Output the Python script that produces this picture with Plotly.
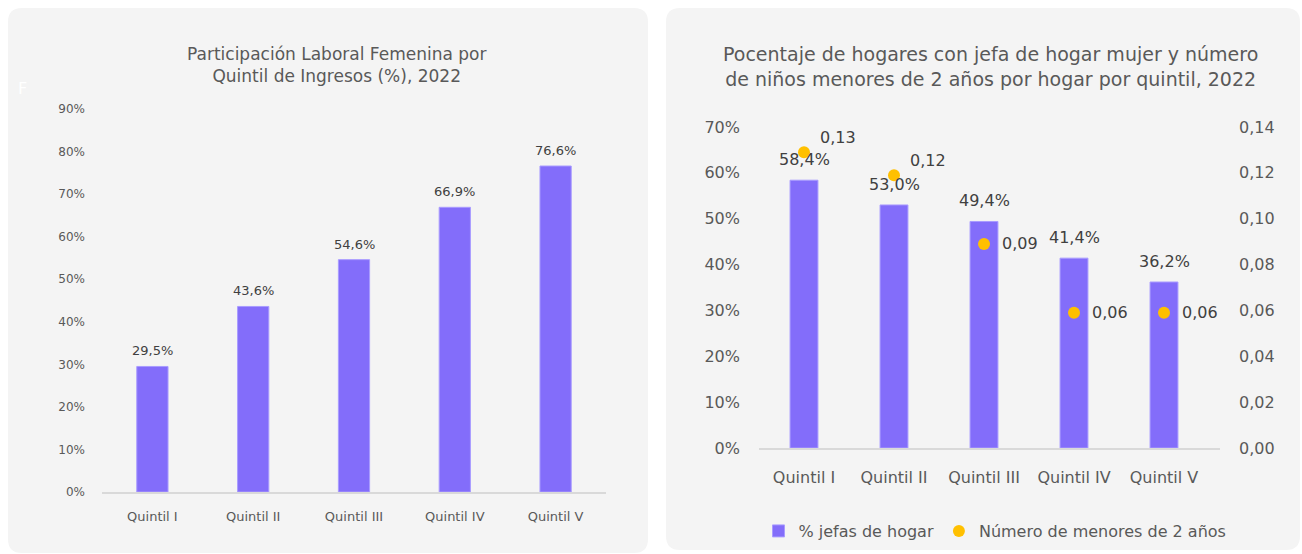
import plotly.graph_objects as go

# ---------------- data ----------------
quintiles = ["Quintil I", "Quintil II", "Quintil III", "Quintil IV", "Quintil V"]
participacion = [29.5, 43.6, 54.6, 66.9, 76.6]          # % left chart
jefas_hogar = [58.4, 53.0, 49.4, 41.4, 36.2]            # % right chart bars
menores_2 = [0.129, 0.119, 0.089, 0.059, 0.059]         # right chart dots
left_ticks = [0, 10, 20, 30, 40, 50, 60, 70, 80, 90]
right_ticks = [0, 10, 20, 30, 40, 50, 60, 70]
right2_ticks = [0, 0.02, 0.04, 0.06, 0.08, 0.10, 0.12, 0.14]

W, H = 1302, 554
FONT = "DejaVu Sans, sans-serif"
PURPLE = "#836DFA"
ORANGE = "#FFC000"
TXT = "#595959"
TXT2 = "#404040"


def px(x):
    return x / W


def py(y):
    return 1 - y / H


def rrect(x0, y0, x1, y1, r):
    pts = [
        ("M", [(x0 + r, y0)]),
        ("L", [(x1 - r, y0)]),
        ("Q", [(x1, y0), (x1, y0 + r)]),
        ("L", [(x1, y1 - r)]),
        ("Q", [(x1, y1), (x1 - r, y1)]),
        ("L", [(x0 + r, y1)]),
        ("Q", [(x0, y1), (x0, y1 - r)]),
        ("L", [(x0, y0 + r)]),
        ("Q", [(x0, y0), (x0 + r, y0)]),
    ]
    s = ""
    for cmd, pp in pts:
        s += cmd + " " + " ".join(f"{px(a):.5f},{py(b):.5f}" for a, b in pp) + " "
    return s + "Z"


def pct(v):
    return f"{v:.1f}%".replace(".", ",")


fig = go.Figure()

# left chart bars
fig.add_trace(go.Bar(
    x=quintiles, y=participacion, xaxis="x", yaxis="y",
    marker=dict(color=PURPLE, line=dict(color="#A99BFF", width=1)),
    width=0.31, showlegend=False, hoverinfo="skip",
))

# right chart bars
fig.add_trace(go.Bar(
    x=quintiles, y=jefas_hogar, xaxis="x2", yaxis="y2",
    marker=dict(color=PURPLE, line=dict(color="#A99BFF", width=1)),
    width=0.31, name="% jefas de hogar", hoverinfo="skip",
))

# right chart dots
fig.add_trace(go.Scatter(
    x=quintiles, y=menores_2, xaxis="x2", yaxis="y3",
    mode="markers", marker=dict(color=ORANGE, size=12),
    name="Número de menores de 2 años", hoverinfo="skip",
))

annotations = []
for q, v in zip(quintiles, participacion):
    annotations.append(dict(
        x=q, y=v, xref="x", yref="y", text=pct(v),
        showarrow=False, yanchor="bottom", yshift=6,
        font=dict(family=FONT, size=13, color=TXT2),
    ))
for q, v in zip(quintiles, jefas_hogar):
    annotations.append(dict(
        x=q, y=v, xref="x2", yref="y2", text=pct(v),
        showarrow=False, yanchor="bottom", yshift=9,
        font=dict(family=FONT, size=16, color=TXT2),
    ))
for i, (q, v) in enumerate(zip(quintiles, menores_2)):
    top = i < 2
    annotations.append(dict(
        x=q, y=v, xref="x2", yref="y3", text=f"{round(v, 2):.2f}".replace(".", ","),
        showarrow=False, xanchor="left", yanchor="bottom" if top else "middle",
        xshift=14 if top else 16, yshift=3 if top else 0,
        font=dict(family=FONT, size=16, color=TXT2),
    ))

annotations.append(dict(
    x=px(336), y=py(65), xref="paper", yref="paper", showarrow=False,
    text="Participación Laboral Femenina por<br>Quintil de Ingresos (%), 2022",
    font=dict(family=FONT, size=17, color=TXT), align="center",
    xanchor="center", yanchor="middle",
))
annotations.append(dict(
    x=px(990), y=py(67), xref="paper", yref="paper", showarrow=False,
    text="Pocentaje de hogares con jefa de hogar mujer y número<br>de niños menores de 2 años por hogar por quintil, 2022",
    font=dict(family=FONT, size=19, color=TXT), align="center",
    xanchor="center", yanchor="middle",
))
annotations.append(dict(
    x=px(22), y=py(88), xref="paper", yref="paper", showarrow=False,
    text="F", font=dict(family=FONT, size=16, color="white"),
    xanchor="center", yanchor="middle",
))

shapes = [
    dict(type="path", xref="paper", yref="paper", path=rrect(8, 8, 648, 553, 14),
         fillcolor="#F4F4F4", line=dict(width=0), layer="below"),
    dict(type="path", xref="paper", yref="paper", path=rrect(666, 8, 1300, 550, 14),
         fillcolor="#F4F4F4", line=dict(width=0), layer="below"),
]

fig.update_layout(
    width=W, height=H, autosize=False,
    margin=dict(l=0, r=0, t=0, b=0, autoexpand=False),
    paper_bgcolor="white", plot_bgcolor="rgba(0,0,0,0)",
    separators=",.",
    font=dict(family=FONT, color=TXT),
    shapes=shapes, annotations=annotations,
    xaxis=dict(
        domain=[px(102), px(606)], anchor="y", showgrid=False,
        showline=True, linecolor="#D9D9D9", linewidth=1.5,
        tickfont=dict(family=FONT, size=13, color=TXT), ticks="",
        ticklabelstandoff=12, fixedrange=True,
    ),
    yaxis=dict(
        domain=[py(492), py(109)], anchor="x", range=[0, 90],
        tickvals=left_ticks, ticktext=[f"{v}%" for v in left_ticks],
        showgrid=False, zeroline=False,
        showline=False, tickfont=dict(family=FONT, size=12, color=TXT),
        ticklabelstandoff=16, fixedrange=True,
    ),
    xaxis2=dict(
        domain=[px(759), px(1220)], anchor="y2", showgrid=False,
        showline=True, linecolor="#D9D9D9", linewidth=1.5,
        tickfont=dict(family=FONT, size=16, color=TXT), ticks="",
        ticklabelstandoff=14, fixedrange=True,
    ),
    yaxis2=dict(
        domain=[py(448), py(127)], anchor="x2", range=[0, 70],
        tickvals=right_ticks, ticktext=[f"{v}%" for v in right_ticks],
        showgrid=False, zeroline=False,
        showline=False, tickfont=dict(family=FONT, size=16, color=TXT),
        ticklabelstandoff=18, fixedrange=True,
    ),
    yaxis3=dict(
        overlaying="y2", anchor="x2", side="right", range=[0, 0.14],
        tickvals=right2_ticks, ticktext=[f"{v:.2f}".replace(".", ",") for v in right2_ticks],
        showgrid=False, zeroline=False,
        showline=False, tickfont=dict(family=FONT, size=16, color=TXT),
        ticklabelstandoff=18, fixedrange=True,
    ),
    legend=dict(
        orientation="h", x=px(995), xanchor="center", y=py(531), yanchor="middle",
        font=dict(family=FONT, size=16, color=TXT), bgcolor="rgba(0,0,0,0)",
        itemwidth=30,
    ),
)

post = (
    "document.documentElement.style.margin='0';"
    "document.body.style.margin='0';document.body.style.padding='0';"
    "document.body.style.overflow='hidden';"
    "var gd=document.getElementById('{plot_id}');"
    "gd.style.position='fixed';gd.style.left='0px';gd.style.top='0px';"
)

fig.write_html("out.html", post_script=post, config={"displayModeBar": False})
